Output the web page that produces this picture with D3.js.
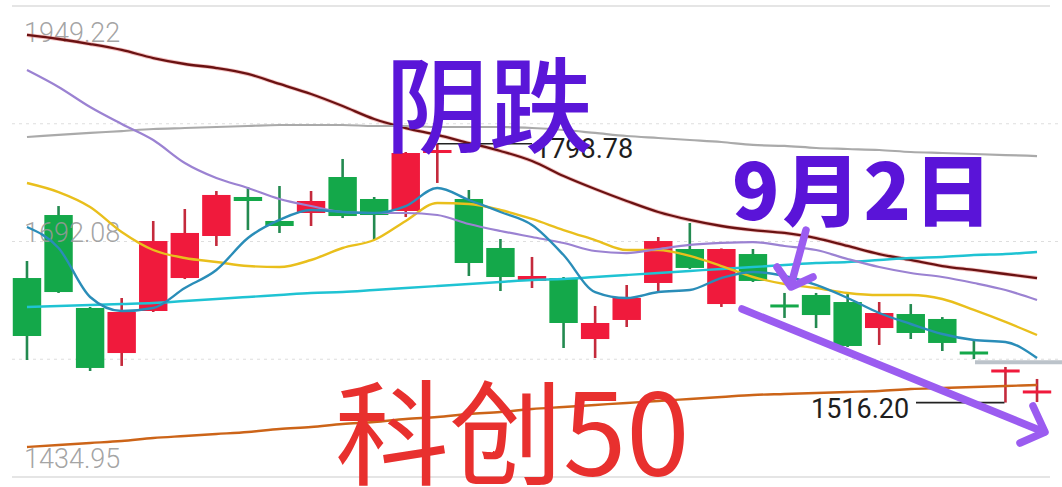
<!DOCTYPE html>
<html><head><meta charset="utf-8">
<script src="https://cdn.jsdelivr.net/npm/d3@7"></script>
<style>body{margin:0;background:#fff}svg{display:block}</style>
</head><body><svg id="c" width="1062" height="487"></svg>
<script>
// ---- data ----
const days = ["1","2","3","4","5","6","7","8","9","10","11","12","13","14","15","16","17","18","19","20","21","22","23","24","25","26","27","28","29","30","31","32","33"];
const open  = [1652.2,1721.0,1619.5,1570.3,1616.2,1652.2,1698.1,1740.7,1714.5,1723.2,1762.5,1738.5,1725.4,1788.7,1738.5,1685.0,1649.0,1652.2,1585.6,1606.4,1646.8,1683.9,1623.8,1678.4,1622.8,1633.7,1626.0,1597.6,1612.9,1607.5,1571.4,1549.6,1526.7];
const high  = [1670.8,1730.8,1620.6,1630.4,1714.5,1727.6,1747.2,1751.6,1752.7,1747.2,1782.2,1740.7,1789.8,1798.78,1748.3,1694.8,1675.2,1653.3,1621.7,1644.6,1697.0,1712.3,1684.5,1683.9,1635.9,1635.9,1635.9,1626.0,1623.8,1609.6,1585.6,1555.1,1542.0];
const low   = [1562.7,1635.9,1550.7,1556.2,1615.1,1651.1,1687.2,1704.6,1701.4,1709.0,1717.7,1693.7,1718.8,1756.0,1654.4,1638.0,1641.3,1575.8,1564.9,1598.7,1636.9,1662.1,1620.6,1647.9,1608.6,1597.6,1576.9,1579.1,1585.6,1572.5,1563.8,1516.2,1516.8];
const close = [1588.9,1636.9,1554.0,1615.1,1692.6,1701.4,1742.9,1736.3,1709.0,1736.3,1719.9,1721.0,1788.7,1792.0,1668.6,1653.3,1654.4,1603.1,1603.1,1630.4,1692.6,1663.2,1683.9,1649.0,1620.6,1611.8,1578.0,1614.0,1592.2,1581.3,1569.3,1551.8,1528.9];

const maMaroon = [1917.6,1913.2,1907.7,1901.2,1892.4,1885.9,1881.5,1875.0,1864.1,1853.1,1840.0,1825.8,1816.0,1808.4,1799.6,1790.9,1780.0,1763.6,1749.4,1736.3,1724.3,1715.6,1709.0,1704.6,1701.4,1695.9,1687.2,1678.4,1671.9,1665.3,1661.0,1656.6,1652.2];
const maPurple = [1879.3,1860.8,1838.9,1820.4,1802.9,1777.8,1761.4,1750.5,1738.5,1730.8,1724.3,1723.2,1723.2,1721.0,1711.2,1703.6,1697.0,1690.5,1681.7,1679.5,1683.9,1688.3,1690.5,1691.5,1687.2,1682.8,1673.0,1664.2,1657.7,1653.3,1646.8,1639.1,1628.2];
const maGray   = [1806.2,1808.4,1810.6,1812.7,1814.9,1816.0,1817.1,1818.2,1819.3,1819.3,1819.3,1818.2,1818.2,1817.1,1817.1,1817.1,1816.0,1813.8,1810.6,1807.3,1805.1,1802.9,1800.7,1797.5,1796.4,1794.2,1793.1,1792.0,1789.8,1788.7,1787.6,1786.5,1785.4];
const maYellow = [1756.0,1746.1,1729.8,1702.5,1682.8,1674.1,1669.7,1665.3,1664.2,1671.9,1685.0,1693.7,1714.5,1734.1,1733.0,1726.5,1716.7,1704.6,1693.7,1682.8,1682.8,1676.3,1665.3,1653.3,1645.7,1641.3,1635.9,1633.7,1633.7,1629.3,1617.3,1604.2,1590.0];
const maBlue   = [1707.9,1685.0,1631.5,1616.2,1619.5,1641.3,1661.0,1695.9,1715.6,1726.5,1724.3,1723.2,1730.8,1750.5,1737.4,1724.3,1710.1,1677.3,1636.9,1630.4,1636.9,1639.1,1652.2,1658.8,1654.4,1644.6,1630.4,1614.0,1602.0,1591.1,1584.5,1582.4,1564.9];
const maCyan   = [1620.6,1621.7,1622.8,1623.8,1624.9,1627.1,1629.3,1631.5,1633.7,1635.9,1636.9,1639.1,1641.3,1643.5,1645.7,1647.9,1650.1,1651.1,1653.3,1655.5,1657.7,1659.9,1662.1,1664.2,1666.4,1668.6,1669.7,1671.9,1674.1,1675.2,1677.3,1678.4,1680.6];
const maOrange = [1467.7,1469.9,1472.1,1474.3,1477.5,1479.7,1481.9,1484.1,1487.4,1489.5,1492.8,1495.0,1498.3,1500.5,1503.7,1505.9,1509.2,1511.4,1513.6,1515.8,1517.9,1520.1,1522.3,1524.5,1525.6,1526.7,1527.8,1528.9,1531.0,1532.1,1533.2,1534.3,1535.4];

const axisLabels = [1949.22, 1692.08, 1434.95];
const gridValues = [1820.65, 1692.08, 1563.52];
const highLabel = 1798.78, highIdx = 13;
const lowLabel = 1516.20, lowIdx = 31;

// ---- drawing ----
const svg = d3.select("#c");
const y = d3.scaleLinear().domain([1434.95, 1949.22]).range([477, 6]);
const x = d3.scaleBand().domain(days).range([11.2, 1052.8]).paddingInner(0.1).paddingOuter(0.05);
const cx = i => x(days[i]) + x.bandwidth() / 2;

// frame + grid
svg.append("line").attr("x1", 12).attr("x2", 1050).attr("y1", y(1949.22)).attr("y2", y(1949.22))
  .attr("stroke", "#dcdcdc").attr("stroke-width", 1.5);
svg.append("line").attr("x1", 12).attr("x2", 1050).attr("y1", y(1434.95)).attr("y2", y(1434.95))
  .attr("stroke", "#dcdcdc").attr("stroke-width", 1.5);
svg.selectAll("line.grid").data(gridValues).enter().append("line").attr("class", "grid")
  .attr("x1", 12).attr("x2", 1062).attr("y1", d => y(d)).attr("y2", d => y(d))
  .attr("stroke", "#dedede").attr("stroke-width", 1).attr("stroke-dasharray", "3,4");
svg.append("line").attr("x1", 975).attr("x2", 1062).attr("y1", y(1563.52) + 3).attr("y2", y(1563.52) + 3)
  .attr("stroke", "#bcc3ca").attr("stroke-width", 4);

// candles
const idx = d3.range(days.length);
const RED = "#f01a3c", GREEN = "#14a84a";
const g = svg.append("g");
g.selectAll("line.wick").data(idx).enter().append("line").attr("class", "wick")
  .attr("x1", cx).attr("x2", cx).attr("y1", i => y(high[i])).attr("y2", i => y(low[i]))
  .attr("stroke", i => close[i] >= open[i] ? "#c42a3c" : "#238a50").attr("stroke-width", 2.6);
g.selectAll("rect.body").data(idx).enter().append("rect").attr("class", "body")
  .attr("x", i => x(days[i])).attr("width", x.bandwidth())
  .attr("y", i => { const t = y(Math.max(open[i], close[i])), b = y(Math.min(open[i], close[i])); return b - t < 3 ? (t + b) / 2 - 1.5 : t; })
  .attr("height", i => Math.max(3, Math.abs(y(open[i]) - y(close[i]))))
  .attr("fill", i => close[i] >= open[i] ? RED : GREEN);

// axis labels
const offs = [36, 0, -9];
svg.selectAll("text.ax").data(axisLabels).enter().append("text").attr("class", "ax")
  .attr("x", 24).attr("y", (d, i) => y(d) + offs[i])
  .attr("font-family", "Roboto").attr("font-weight", 300).attr("font-size", 27)
  .attr("fill", "#999").attr("fill-opacity", 0.9).text(d => d.toFixed(2));

// MA lines
const line = d3.line().x((d, i) => cx(i)).y(d => y(d)).curve(d3.curveMonotoneX);
const series = [
  [maOrange, "#cc6418", 2.4],
  [maCyan, "#1fc3d3", 2.4],
  [maGray, "#aaaaaa", 2.2],
  [maYellow, "#e9bf1c", 2.4],
  [maPurple, "#9b82d2", 2.2],
  [maBlue, "#2a8db8", 2.4],
];
svg.append("path").attr("d", line(maMaroon)).attr("fill", "none").attr("stroke", "#e88080").attr("stroke-width", 4).attr("stroke-opacity", 0.5);
svg.append("path").attr("d", line(maMaroon)).attr("fill", "none").attr("stroke", "#6a1212").attr("stroke-width", 2.3);
series.forEach(([data, col, w]) => {
  svg.append("path").attr("d", line(data)).attr("fill", "none").attr("stroke", col).attr("stroke-width", w);
});

// high / low labels
svg.append("line").attr("x1", cx(highIdx)).attr("x2", 532).attr("y1", y(highLabel)).attr("y2", y(highLabel))
  .attr("stroke", "#222").attr("stroke-width", 1.5);
svg.append("text").attr("x", 535).attr("y", y(highLabel) + 14).attr("font-family", "Roboto").attr("font-size", 27)
  .attr("fill", "#1e1e1e").text(highLabel.toFixed(2));
svg.append("line").attr("x1", 916).attr("x2", cx(lowIdx) - 1).attr("y1", y(lowLabel)).attr("y2", y(lowLabel))
  .attr("stroke", "#222").attr("stroke-width", 1.8);
svg.append("text").attr("x", 811).attr("y", y(lowLabel) + 15).attr("font-family", "Roboto").attr("font-size", 27)
  .attr("fill", "#1e1e1e").text(lowLabel.toFixed(2));

// annotations
const cjk = "'Noto Sans CJK SC', sans-serif";
svg.append("text").attr("x", 385).attr("y", 145).attr("font-family", cjk).attr("font-size", 104).attr("font-weight", 500)
  .attr("fill", "#5a16d8").text("阴跌");
svg.append("text").attr("x", 732).attr("y", 220).attr("font-family", cjk).attr("font-size", 78).attr("font-weight", 900)
  .attr("fill", "#5a14d8").attr("letter-spacing", 3).text("9月2日");
svg.append("text").attr("x", 335).attr("y", 476).attr("font-family", cjk).attr("font-size", 114).attr("font-weight", 400)
  .attr("fill", "#e8302e").text("科创50");

// arrows
const AC = "#9b5cf0";
const arrow = (pts) => svg.append("path").attr("d", d3.line()(pts)).attr("fill", "none").attr("stroke", AC)
  .attr("stroke-width", 7.5).attr("stroke-linecap", "round").attr("stroke-linejoin", "round");
arrow([[806, 230], [791, 285]]);
arrow([[777, 267], [791, 287], [813, 277]]);
arrow([[742, 309], [1044, 432]]);
arrow([[1033, 406], [1045, 432], [1020, 443]]);
</script></body></html>
